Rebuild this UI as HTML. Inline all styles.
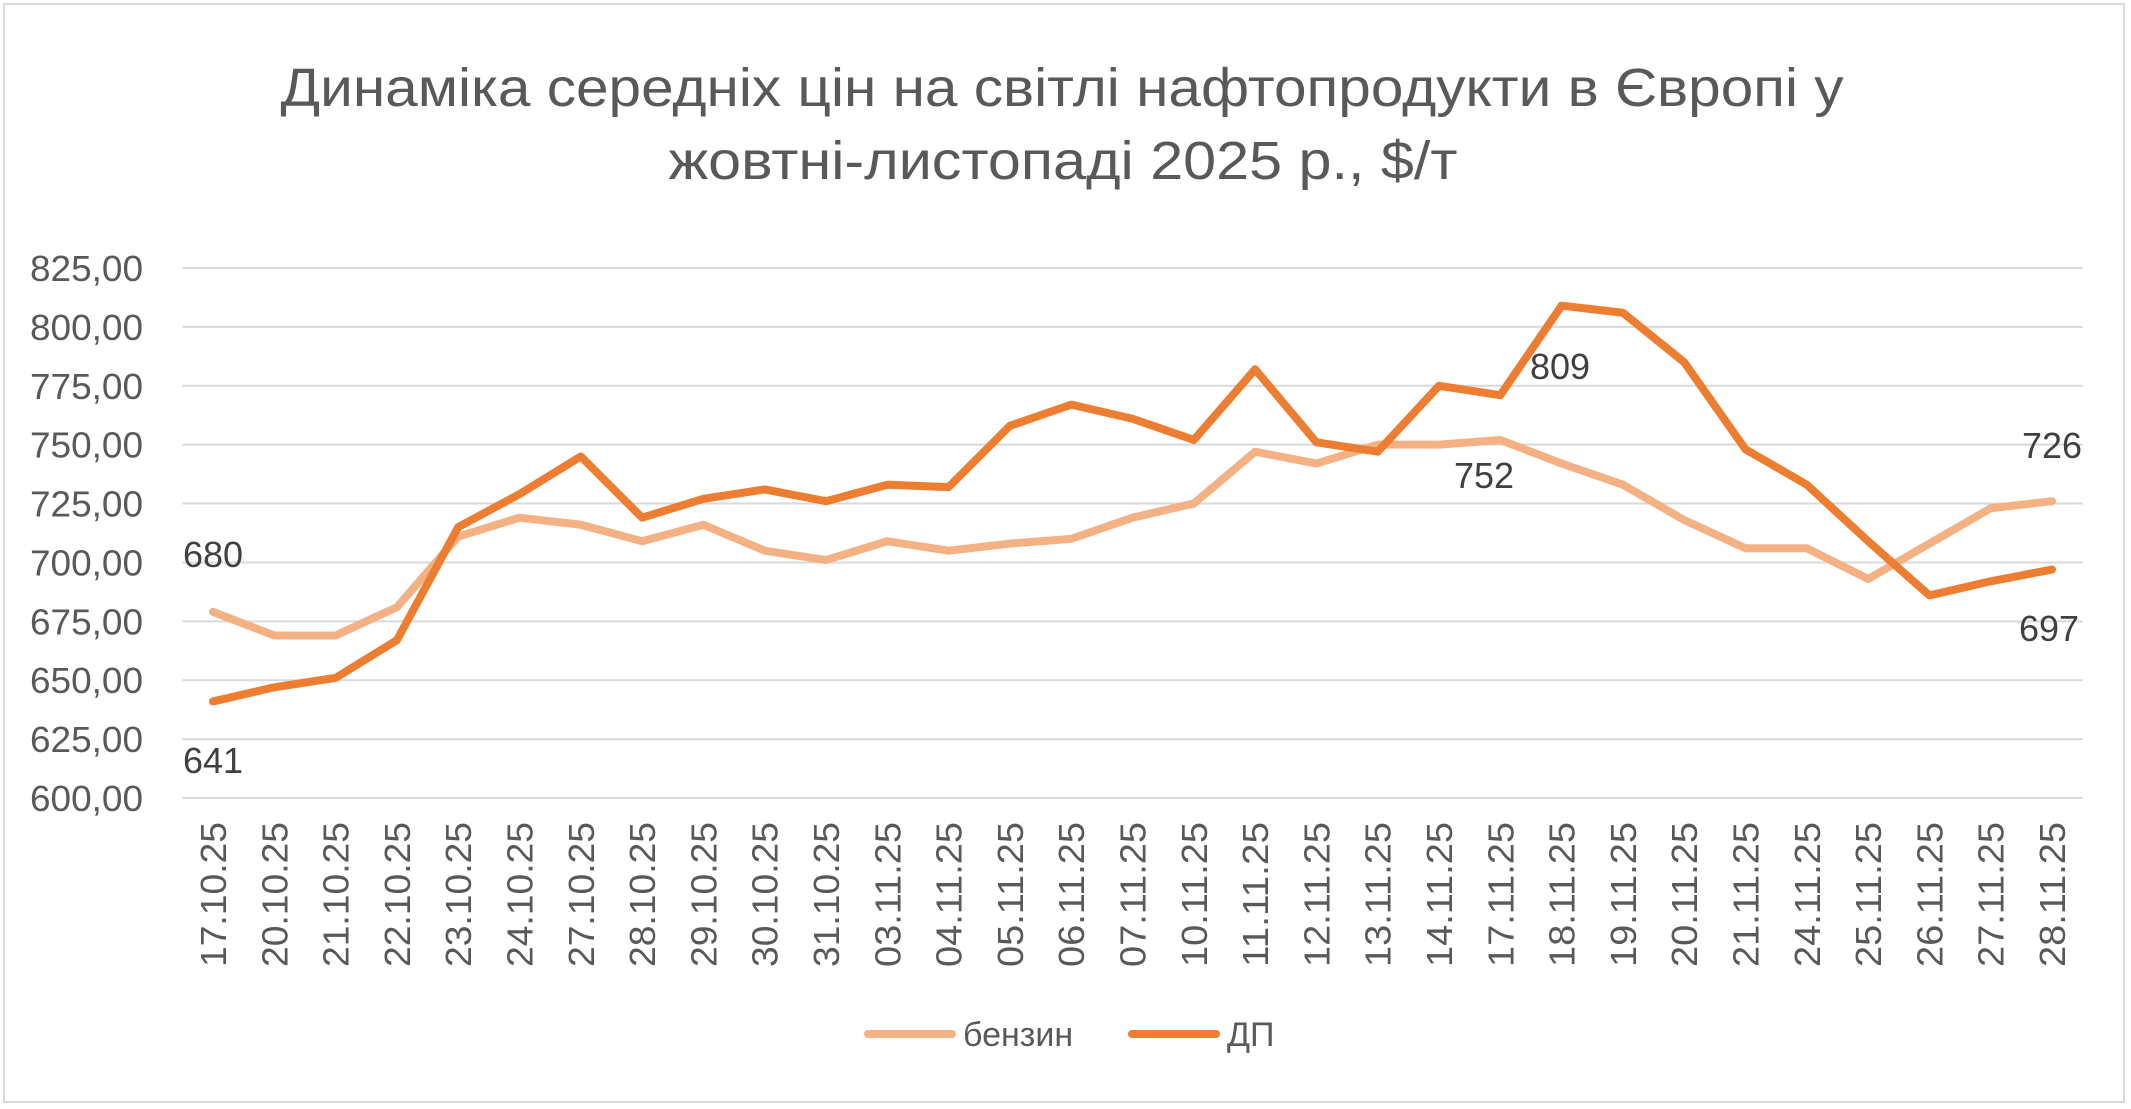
<!DOCTYPE html>
<html><head><meta charset="utf-8"><style>html,body{margin:0;padding:0;background:#fff}svg{display:block}</style></head>
<body>
<svg width="2131" height="1109" viewBox="0 0 2131 1109" xmlns="http://www.w3.org/2000/svg" font-family="'Liberation Sans','DejaVu Sans',sans-serif">
<rect x="4" y="4" width="2120" height="1098" fill="#fff" stroke="#d9d9d9" stroke-width="2"/>
<text x="1062" y="106" text-anchor="middle" font-size="54" fill="#595959" textLength="1563" lengthAdjust="spacingAndGlyphs">Динаміка середніх цін на світлі нафтопродукти в Європі у</text>
<text x="1063" y="179" text-anchor="middle" font-size="54" fill="#595959" textLength="789" lengthAdjust="spacingAndGlyphs">жовтні-листопаді 2025 р., $/т</text>
<g id="grid" stroke="#d9d9d9" stroke-width="2"></g>
<g id="ylab" font-size="36" fill="#595959" text-anchor="end"></g>
<g id="xlab" font-size="36" fill="#595959"></g>
<polyline id="b" fill="none" stroke="#F4B183" stroke-width="8" stroke-linejoin="round" stroke-linecap="round"/>
<polyline id="d" fill="none" stroke="#ED7D31" stroke-width="8" stroke-linejoin="round" stroke-linecap="round"/>
<g font-size="36" fill="#404040" text-anchor="middle">
<text x="213" y="567">680</text>
<text x="213" y="773">641</text>
<text x="1484" y="488">752</text>
<text x="1560" y="379">809</text>
<text x="2052" y="458">726</text>
<text x="2049" y="641">697</text>
</g>
<line x1="868" y1="1034" x2="952" y2="1034" stroke="#F4B183" stroke-width="8" stroke-linecap="round"/>
<text x="963" y="1046" font-size="34" fill="#595959">бензин</text>
<line x1="1132" y1="1034" x2="1216" y2="1034" stroke="#ED7D31" stroke-width="8" stroke-linecap="round"/>
<text x="1227" y="1046" font-size="34" fill="#595959">ДП</text>
</svg>
<script>
const ns="http://www.w3.org/2000/svg";
const dates=["17.10.25","20.10.25","21.10.25","22.10.25","23.10.25","24.10.25","27.10.25","28.10.25","29.10.25","30.10.25","31.10.25","03.11.25","04.11.25","05.11.25","06.11.25","07.11.25","10.11.25","11.11.25","12.11.25","13.11.25","14.11.25","17.11.25","18.11.25","19.11.25","20.11.25","21.11.25","24.11.25","25.11.25","26.11.25","27.11.25","28.11.25"];
const b=[679,669,669,681,711,719,716,709,716,705,701,709,705,708,710,719,725,747,742,750,750,752,742,733,718,706,706,693,708,723,726];
const d=[641,647,651,667,715,729,745,719,727,731,726,733,732,758,767,761,752,782,751,747,775,771,809,806,785,748,733,709,686,692,697];
const n=dates.length, x0=213, x1=2052, step=(x1-x0)/(n-1);
const Y=v=>798-(v-600)*(530/225);
const X=i=>x0+i*step;
const g=document.getElementById('grid'),yl=document.getElementById('ylab'),xl=document.getElementById('xlab');
for(let k=0;k<=9;k++){const v=600+25*k,y=Y(v);
 const l=document.createElementNS(ns,'line');l.setAttribute('x1',x0-step/2);l.setAttribute('x2',x1+step/2);l.setAttribute('y1',y);l.setAttribute('y2',y);g.appendChild(l);
 const t=document.createElementNS(ns,'text');t.setAttribute('x',143);t.setAttribute('y',y+13);t.setAttribute('textLength',113);t.setAttribute('lengthAdjust','spacingAndGlyphs');t.textContent=v+',00';yl.appendChild(t);}
dates.forEach((s,i)=>{const t=document.createElementNS(ns,'text');const x=X(i)+13,y=822;
 t.setAttribute('transform',`translate(${x},${y}) rotate(-90)`);t.setAttribute('text-anchor','end');t.setAttribute('textLength',145);t.setAttribute('lengthAdjust','spacingAndGlyphs');t.textContent=s;xl.appendChild(t);});
document.getElementById('b').setAttribute('points',b.map((v,i)=>X(i)+','+Y(v)).join(' '));
document.getElementById('d').setAttribute('points',d.map((v,i)=>X(i)+','+Y(v)).join(' '));
</script>
</body></html>
